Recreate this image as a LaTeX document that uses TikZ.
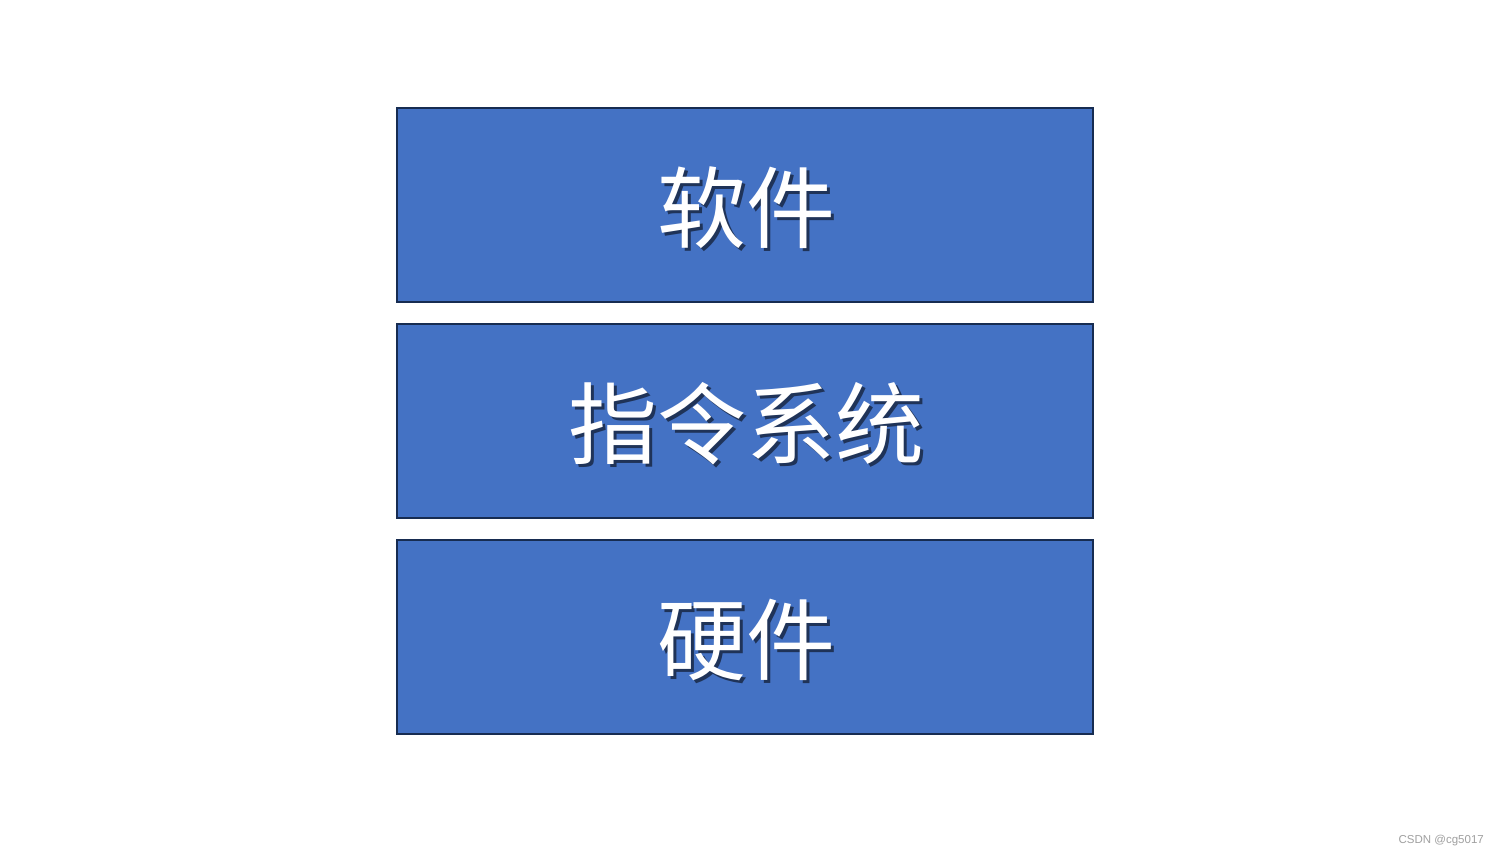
\documentclass[tikz,border=0pt]{standalone}
\usepackage{fontspec}
\newfontfamily\cjk{Noto Sans CJK SC}
\newfontfamily\wmfont{Liberation Sans}
\definecolor{boxfill}{HTML}{4472C4}
\definecolor{boxline}{HTML}{172C51}
\definecolor{wmgray}{HTML}{A0A0A0}
\colorlet{shadowcol}{boxfill!45!black}
\newcommand\shadowedtext[1]{\leavevmode\rlap{\kern3pt\raisebox{-3pt}{\color{shadowcol}#1}}#1}
\begin{document}
\begin{tikzpicture}[x=1pt,y=-1pt,
  layerbox/.style={draw=boxline,line width=2pt,fill=boxfill,minimum width=696pt,minimum height=194pt,inner sep=0pt},
  layertext/.style={text=white,font=\cjk\fontsize{89}{89}\selectfont,inner sep=0pt}]
\useasboundingbox (0,0) rectangle (1499,857);
\fill[white] (0,0) rectangle (1499,857);
\node[layerbox] (soft) at (745,205) {};
\node[layerbox] (isa) at (745,421) {};
\node[layerbox] (hard) at (745,637) {};
\foreach \n/\t in {soft/软件,isa/指令系统,hard/硬件}{
  \node[layertext] (\n-label) at ([shift={(1,4)}]\n.center) {\shadowedtext{\t}};
}
\node[text=wmgray,font=\wmfont\fontsize{11.5}{13}\selectfont,anchor=south east,inner sep=0pt] (wm) at (1484,846) {CSDN @cg5017};
\end{tikzpicture}
\end{document}
